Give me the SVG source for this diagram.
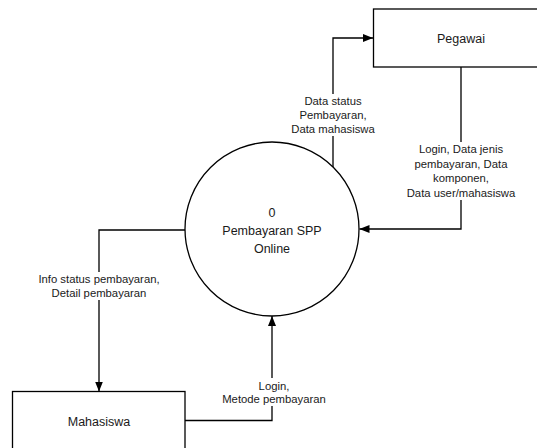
<svg xmlns="http://www.w3.org/2000/svg" width="537" height="448" viewBox="0 0 537 448">
<style>
.shape{fill:#fff;stroke:#000;stroke-width:1.3}
.conn{fill:none;stroke:#000;stroke-width:1.3}
.t{font-family:"Liberation Sans",Arial,sans-serif;fill:#1a1a1a;text-anchor:middle}
.node{font-size:12.5px}
.lbl{font-size:11.3px}
.bg{fill:#fff;stroke:none}
</style>
<defs>
<marker id="arr" markerUnits="userSpaceOnUse" markerWidth="10" markerHeight="10" viewBox="0 0 10 10" refX="10" refY="5" orient="auto">
<path d="M0,1 L10,5 L0,9 Z" fill="#000"/>
</marker>
</defs>
<rect width="537" height="448" fill="#fff"/>
<g id="connectors">
<path class="conn" d="M333,167 V38 H373" marker-end="url(#arr)"/>
<path class="conn" d="M461,67 V229 H359.5" marker-end="url(#arr)"/>
<path class="conn" d="M185,230 H99 V391.5" marker-end="url(#arr)"/>
<path class="conn" d="M185,420.5 H272 V316" marker-end="url(#arr)"/>
<g id="label-1">
<rect class="bg" x="288" y="94" width="90" height="42"/>
<text class="t lbl"><tspan x="333" y="104.5">Data status</tspan><tspan x="333" y="118.5">Pembayaran,</tspan><tspan x="333" y="132.5">Data mahasiswa</tspan></text>
</g>
<g id="label-2">
<rect class="bg" x="405" y="142" width="112" height="58"/>
<text class="t lbl"><tspan x="461" y="153">Login, Data jenis</tspan><tspan x="461" y="167.5">pembayaran, Data</tspan><tspan x="461" y="182">komponen,</tspan><tspan x="461" y="196.5">Data user/mahasiswa</tspan></text>
</g>
<g id="label-3">
<rect class="bg" x="35" y="272" width="128" height="28"/>
<text class="t lbl"><tspan x="99" y="283">Info status pembayaran,</tspan><tspan x="99" y="296.5">Detail pembayaran</tspan></text>
</g>
<g id="label-4">
<rect class="bg" x="220" y="378" width="108" height="28"/>
<text class="t lbl"><tspan x="274" y="389.5">Login,</tspan><tspan x="274" y="403">Metode pembayaran</tspan></text>
</g>
</g>
<g id="process-0">
<circle class="shape" cx="272" cy="229" r="87"/>
<text class="t node"><tspan x="272" y="217">0</tspan><tspan x="272" y="235">Pembayaran SPP</tspan><tspan x="272" y="252.5">Online</tspan></text>
</g>
<g id="pegawai">
<rect class="shape" x="373.5" y="9" width="176" height="58"/>
<text class="t node" x="461" y="42.5">Pegawai</text>
</g>
<g id="mahasiswa">
<rect class="shape" x="12.5" y="391.5" width="172.5" height="60"/>
<text class="t node" x="99" y="426">Mahasiswa</text>
</g>
</svg>
